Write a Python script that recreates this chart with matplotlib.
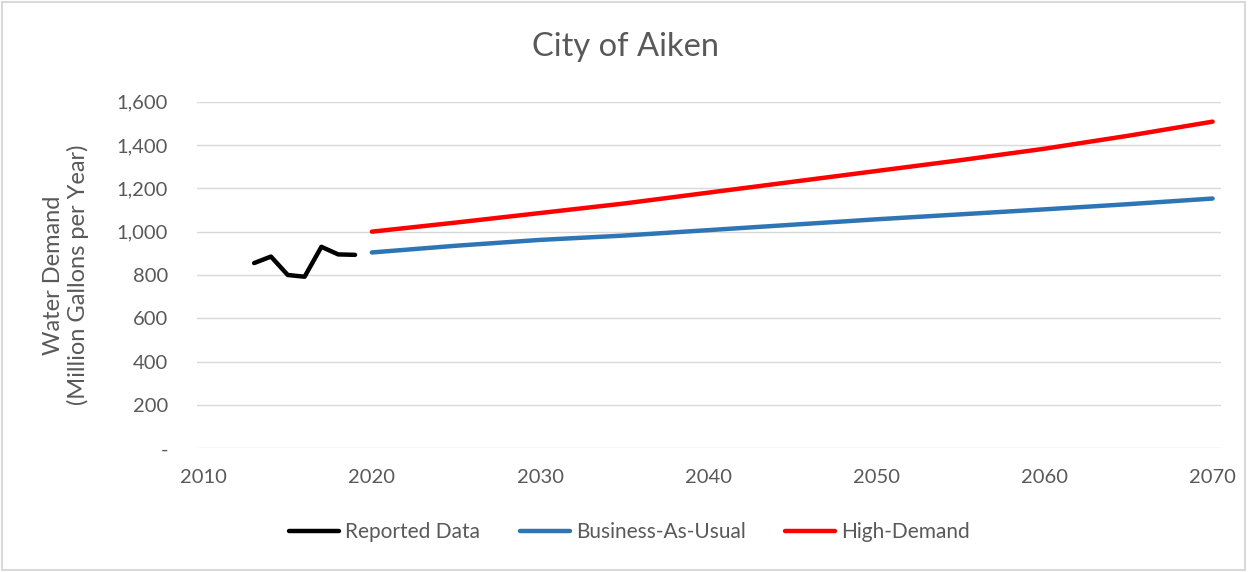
import matplotlib
matplotlib.use('Agg')
from matplotlib import pyplot as plt
import matplotlib.ticker as mticker
from matplotlib.patches import Rectangle

# reported data
rep_years = [2013, 2014, 2015, 2016, 2017, 2018, 2019]
rep_vals = [855, 885, 800, 792, 930, 895, 893]

# projections
proj_years = [2020, 2025, 2030, 2035, 2040, 2045, 2050, 2055, 2060, 2065, 2070]
bau_vals = [904, 935, 962, 982, 1007, 1032, 1057, 1080, 1103, 1127, 1153]
high_vals = [1000, 1042, 1086, 1130, 1180, 1230, 1280, 1330, 1383, 1443, 1508]

x_ticks = [2010, 2020, 2030, 2040, 2050, 2060, 2070]
y_ticks = [0, 200, 400, 600, 800, 1000, 1200, 1400, 1600]

plt.rcParams['font.family'] = ['Lato', 'DejaVu Sans']
txt = '#595959'

fig = plt.figure(figsize=(12.49, 5.72), dpi=100)
ax = fig.add_axes([0.1577, 0.2163, 0.8199, 0.6059])

ax.plot(rep_years, rep_vals, color='black', lw=3.2, label='Reported Data', solid_capstyle='round')
ax.plot(proj_years, bau_vals, color='#2e75b6', lw=3.2, label='Business-As-Usual', solid_capstyle='round')
ax.plot(proj_years, high_vals, color='#ff0000', lw=3.2, label='High-Demand', solid_capstyle='round')

ax.set_xlim(2009.6, 2070.5)
ax.set_ylim(0, 1600)
ax.set_xticks(x_ticks)
ax.set_yticks(y_ticks)
ax.yaxis.set_major_formatter(mticker.FuncFormatter(lambda v, _: '-' if v == 0 else f'{int(v):,}'))
ax.grid(axis='y', color='#d9d9d9', lw=1)
ax.set_axisbelow(True)
for s in ax.spines.values():
    s.set_visible(False)
ax.tick_params(axis='both', length=0, labelsize=14.5, labelcolor=txt)
ax.tick_params(axis='y', pad=21)
ax.tick_params(axis='x', pad=15)

# title and legend are centred on the whole figure, not the axes
fig.text(0.501, 0.918, 'City of Aiken', fontsize=23.5, color=txt, ha='center', va='center')
ax.set_ylabel('Water Demand\n(Million Gallons per Year)', fontsize=17, color=txt, labelpad=20,
              linespacing=1.15)

h, l = ax.get_legend_handles_labels()
leg = fig.legend(h, l, loc='center', bbox_to_anchor=(0.504, 0.07), ncol=3, frameon=False,
                 fontsize=15, handlelength=2.4, handletextpad=0.3, columnspacing=1.9)
for t in leg.get_texts():
    t.set_color(txt)

fig.patches.append(Rectangle((0.002, 0.003), 0.995, 0.993, transform=fig.transFigure,
                             fill=False, edgecolor='#d9d9d9', lw=1.5))

fig.savefig('out.png', dpi=100)
